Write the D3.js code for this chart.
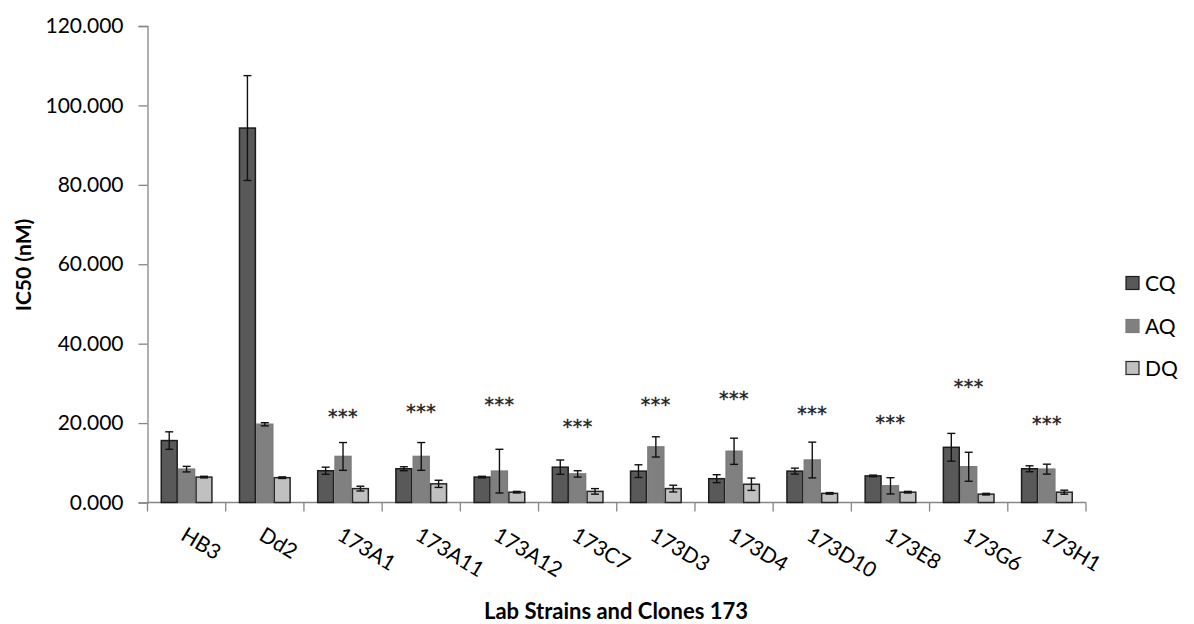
<!DOCTYPE html>
<html>
<head>
<meta charset="utf-8">
<script src="https://cdn.jsdelivr.net/npm/d3@7"></script>
<style>
  html, body { margin: 0; padding: 0; background: #fff; }
  svg { display: block; font-family: Lato, "Open Sans", sans-serif; }
</style>
</head>
<body>
<svg id="chart" width="1194" height="624"></svg>
<script>
// ---- data ----
const categories = ["HB3","Dd2","173A1","173A11","173A12","173C7","173D3","173D4","173D10","173E8","173G6","173H1"];
const seriesNames = ["CQ","AQ","DQ"];
const cqValues = [15.6, 94.3, 8.0, 8.5, 6.4, 8.9, 7.9, 6.0, 7.9, 6.7, 13.9, 8.5];
const cqErrors = [2.2, 13.2, 0.9, 0.5, 0.2, 1.8, 1.6, 1.0, 0.75, 0.2, 3.5, 0.75];
const aqValues = [8.4, 19.7, 11.6, 11.6, 7.9, 7.2, 14.0, 12.9, 10.7, 4.2, 9.0, 8.4];
const aqErrors = [0.7, 0.4, 3.5, 3.5, 5.5, 0.8, 2.55, 3.3, 4.5, 2.05, 3.65, 1.25];
const dqValues = [6.4, 6.25, 3.5, 4.7, 2.6, 2.8, 3.5, 4.6, 2.3, 2.6, 2.1, 2.6];
const dqErrors = [0.2, 0.2, 0.6, 0.9, 0.2, 0.7, 0.85, 1.55, 0.2, 0.2, 0.2, 0.5];
// significance marks ("***") and the value level at which they sit
const starLabels = [null, null, "***", "***", "***", "***", "***", "***", "***", "***", "***", "***"];
const starLevels = [null, null, 22.6, 23.9, 25.5, 19.9, 25.5, 27.0, 23.4, 21.1, 30.2, 20.9];
const yTicks = [0, 20, 40, 60, 80, 100, 120];
const yTitle = "IC50 (nM)";
const xTitle = "Lab Strains and Clones 173";

// ---- styling ----
const fills = {CQ: "#595959", AQ: "#808080", DQ: "#c0c0c0"};
const strokes = {CQ: "#1c1c1c", AQ: "#7b7b7b", DQ: "#262626"};
const axisColor = "#868686";

const svg = d3.select("#chart");
const plotLeft = 147.5, plotRight = 1086, plotTop = 26, plotBottom = 502.5;

const x0 = d3.scaleBand().domain(categories).range([plotLeft, plotRight]).padding(0);
const x1 = d3.scaleBand().domain(seriesNames)
  .range([x0.bandwidth() / 6, x0.bandwidth() * 5 / 6]).padding(0);
const y = d3.scaleLinear().domain([0, 120]).range([plotBottom, plotTop]);

const rows = categories.map((c, i) => ({
  cat: c,
  vals: [
    {s: "CQ", v: cqValues[i], e: cqErrors[i]},
    {s: "AQ", v: aqValues[i], e: aqErrors[i]},
    {s: "DQ", v: dqValues[i], e: dqErrors[i]}
  ],
  star: starLabels[i],
  starLevel: starLevels[i]
}));

// y axis
const yAxis = d3.axisLeft(y).tickValues(yTicks).tickFormat(d3.format(".3f")).tickSize(9).tickPadding(15);
const gy = svg.append("g").attr("transform", `translate(${plotLeft},0)`).call(yAxis);
gy.select(".domain").attr("stroke", axisColor).attr("stroke-width", 1.3);
gy.selectAll(".tick line").attr("stroke", axisColor).attr("stroke-width", 1.3);
gy.selectAll(".tick text").attr("fill", "#000").style("font-size", "21px").style("font-family", "Lato, sans-serif");

// x axis line + boundary ticks
svg.append("line").attr("x1", plotLeft).attr("x2", plotRight).attr("y1", plotBottom).attr("y2", plotBottom)
  .attr("stroke", axisColor).attr("stroke-width", 1.3);
const boundaries = categories.map(c => x0(c)).concat([x0(categories[categories.length - 1]) + x0.bandwidth()]);
svg.append("g").selectAll("line").data(boundaries).join("line")
  .attr("x1", d => d).attr("x2", d => d).attr("y1", plotBottom).attr("y2", plotBottom + 9)
  .attr("stroke", axisColor).attr("stroke-width", 1.3);

// bars
const groups = svg.append("g").selectAll("g").data(rows).join("g")
  .attr("transform", d => `translate(${x0(d.cat)},0)`);
groups.selectAll("rect").data(d => d.vals).join("rect")
  .attr("x", d => x1(d.s) + 0.75)
  .attr("width", x1.bandwidth() - 1.5)
  .attr("y", d => y(d.v))
  .attr("height", d => y(0) - y(d.v))
  .attr("fill", d => fills[d.s])
  .attr("stroke", d => strokes[d.s])
  .attr("stroke-width", 1.5);

// error bars
const eb = groups.selectAll("g.err").data(d => d.vals).join("g").attr("class", "err")
  .attr("stroke", "#111").attr("stroke-width", 1.4);
eb.append("line")
  .attr("x1", d => x1(d.s) + x1.bandwidth() / 2).attr("x2", d => x1(d.s) + x1.bandwidth() / 2)
  .attr("y1", d => y(d.v + d.e)).attr("y2", d => y(d.v - d.e));
eb.append("line")
  .attr("x1", d => x1(d.s) + x1.bandwidth() / 2 - 4).attr("x2", d => x1(d.s) + x1.bandwidth() / 2 + 4)
  .attr("y1", d => y(d.v + d.e)).attr("y2", d => y(d.v + d.e));
eb.append("line")
  .attr("x1", d => x1(d.s) + x1.bandwidth() / 2 - 4).attr("x2", d => x1(d.s) + x1.bandwidth() / 2 + 4)
  .attr("y1", d => y(d.v - d.e)).attr("y2", d => y(d.v - d.e));

// stars
svg.append("g").selectAll("text").data(rows.filter(d => d.star)).join("text")
  .attr("x", d => x0(d.cat) + x0.bandwidth() / 2)
  .attr("y", d => y(d.starLevel) + 10)
  .attr("text-anchor", "middle")
  .style("font-family", "'DejaVu Sans', sans-serif")
  .style("font-size", "19px")
  .style("letter-spacing", "0.5px")
  .attr("fill", "#222")
  .attr("stroke", "#222")
  .attr("stroke-width", 0.4)
  .text(d => d.star);

// x category labels (rotated)
svg.append("g").selectAll("text").data(categories).join("text")
  .attr("transform", d => `translate(${x0(d) + x0.bandwidth() / 2 + 1},${plotBottom + 23}) rotate(31)`)
  .attr("dy", "0.75em")
  .attr("text-anchor", "start")
  .style("font-size", "21px")
  .attr("fill", "#000")
  .text(d => d);

// axis titles
svg.append("text")
  .attr("transform", `translate(31,265) rotate(-90)`)
  .attr("text-anchor", "middle")
  .style("font-size", "21px").style("font-weight", "bold")
  .text(yTitle);
svg.append("text")
  .attr("x", 616).attr("y", 619)
  .attr("text-anchor", "middle")
  .style("font-size", "22px").style("font-weight", "bold")
  .text(xTitle);

// legend
const legendY = [283, 326, 368];
const lg = svg.append("g").selectAll("g").data(seriesNames).join("g")
  .attr("transform", (d, i) => `translate(1126,${legendY[i]})`);
lg.append("rect").attr("x", 0).attr("y", -6.5).attr("width", 13).attr("height", 13)
  .attr("fill", d => fills[d]).attr("stroke", d => strokes[d]).attr("stroke-width", 1.2);
lg.append("text").attr("x", 19).attr("y", 0).attr("dy", "0.36em")
  .style("font-size", "21px").text(d => d);
</script>
</body>
</html>
